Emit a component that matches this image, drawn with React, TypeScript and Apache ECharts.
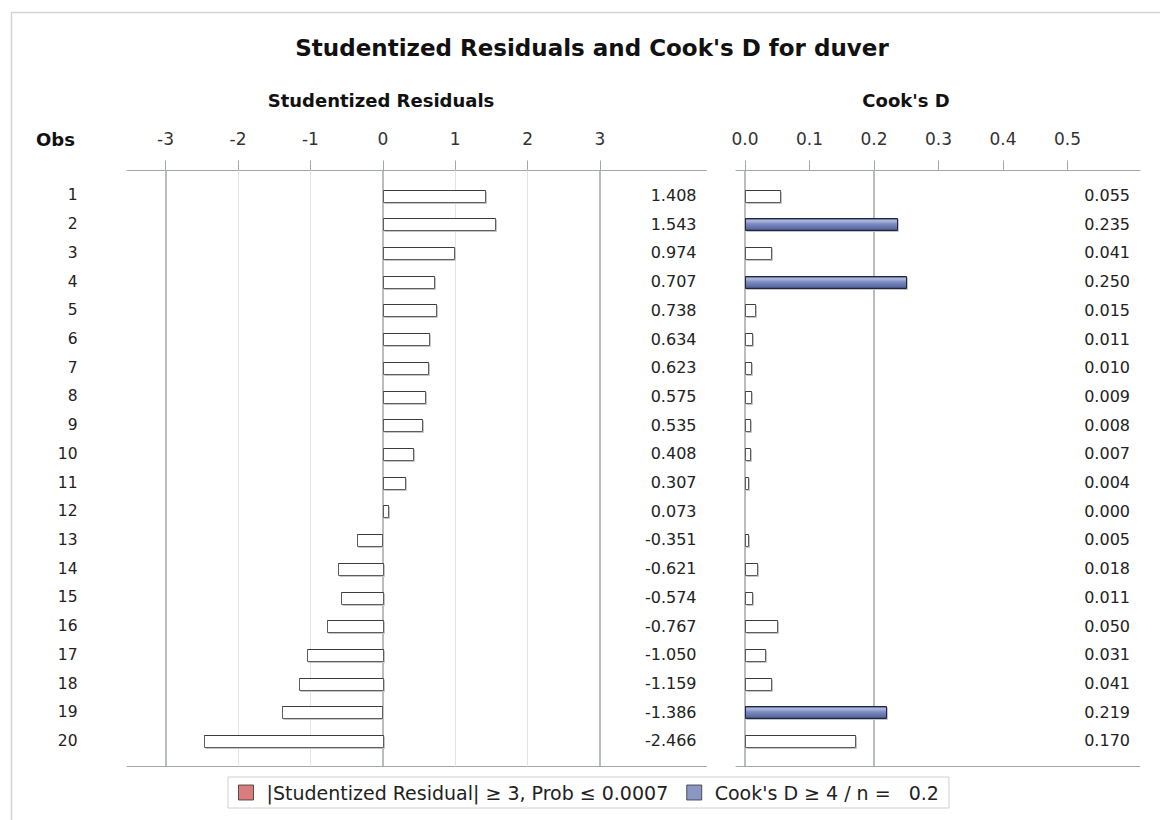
import React, { useEffect, useRef } from 'react';
import * as echarts from 'echarts';

const obsIds = [1, 2, 3, 4, 5, 6, 7, 8, 9, 10, 11, 12, 13, 14, 15, 16, 17, 18, 19, 20];
const studentized = [1.408, 1.543, 0.974, 0.707, 0.738, 0.634, 0.623, 0.575, 0.535, 0.408, 0.307, 0.073, -0.351, -0.621, -0.574, -0.767, -1.05, -1.159, -1.386, -2.466];
const cooksD = [0.055, 0.235, 0.041, 0.25, 0.015, 0.011, 0.01, 0.009, 0.008, 0.007, 0.004, 0.0, 0.005, 0.018, 0.011, 0.05, 0.031, 0.041, 0.219, 0.17];
const residTicks = [-3, -2, -1, 0, 1, 2, 3];
const residRefLines = [-3, 0, 3];
const residGridLines = [-2, -1, 1, 2];
const cookTicks = [0, 0.1, 0.2, 0.3, 0.4, 0.5];
const cookRefLines = [0, 0.2];
const residLimit = 3;
const cookLimit = 0.2;
const titleText = "Studentized Residuals and Cook's D for duver";
const panelTitles = ['Studentized Residuals', "Cook's D"];
const legendNames = ['|Studentized Residual| \u2265 3, Prob \u2264 0.0007', "Cook's D \u2265 4 / n =   0.2"];

const FONT = '"DejaVu Sans", Verdana, sans-serif';
const AXIS_GRAY = '#a3a7ab';
const LIGHT_GRID = '#e4e4e4';

function makeRender(isOut: (v: number) => boolean, kind: 'red' | 'blue') {
  return (params: any, api: any) => {
    const v = api.value(0);
    const o = api.value(1);
    if (!v) return { type: 'group', children: [] };
    const p0 = api.coord([0, o]);
    const p1 = api.coord([v, o]);
    const h = api.size([0, 0.41])[1];
    const x = Math.round(Math.min(p0[0], p1[0])) + 0.5;
    const w = Math.max(1, Math.round(Math.abs(p1[0] - p0[0])));
    const y = Math.round(p0[1] - h / 2) + 0.5;
    const hh = Math.round(h);
    const out = isOut(v);
    let fill: any = '#ffffff';
    let stroke = '#5e5e5e';
    if (out) {
      if (kind === 'blue') {
        fill = new echarts.graphic.LinearGradient(0, 0, 0, 1, [
          { offset: 0, color: '#3a4670' },
          { offset: 0.18, color: '#b3bde0' },
          { offset: 0.45, color: '#7d8cc1' },
          { offset: 0.85, color: '#5b6ba2' },
          { offset: 1, color: '#36416a' },
        ]);
        stroke = '#1f2640';
      } else {
        fill = new echarts.graphic.LinearGradient(0, 0, 0, 1, [
          { offset: 0, color: '#8a3030' },
          { offset: 0.18, color: '#f0b0b0' },
          { offset: 0.45, color: '#d66060' },
          { offset: 1, color: '#8a3030' },
        ]);
        stroke = '#4a1a1a';
      }
    }
    const children: any[] = [
      {
        type: 'polyline',
        shape: { points: [[x + 1, y + hh + 1], [x + w + 1, y + hh + 1], [x + w + 1, y + 1]] },
        style: { fill: 'none', stroke: '#c4c4c4', lineWidth: 1 },
      },
      {
        type: 'rect',
        shape: { x, y, width: w, height: hh },
        style: { fill, stroke, lineWidth: 1 },
      },
    ];
    if (!out) {
      children.push({
        type: 'line',
        shape: { x1: x, y1: y, x2: x + w, y2: y },
        style: { stroke: '#3c3c3c', lineWidth: 1 },
      });
    }
    return { type: 'group', children };
  };
}

export default function App() {
  const ref = useRef<HTMLDivElement>(null);
  useEffect(() => {
    if (!ref.current) return;
    const chart = echarts.init(ref.current, undefined, { renderer: 'svg' });

    const rMin = -3.533, rMax = 4.471;
    const cMin = -0.01395, cMax = 0.6124;
    const yMin = 0.13, yMax = 20.89;

    const tickStyle = { show: true, length: 10, lineStyle: { color: AXIS_GRAY, width: 1 } };
    const xLabel = (vals: number[], fmt: (v: number) => string) => ({
      show: true,
      customValues: vals,
      formatter: (v: number) => fmt(v),
      margin: 23,
      fontSize: 17,
      color: '#333',
      fontFamily: FONT,
    });

    const rowLabel = (fmt: (v: number) => string, margin: number, inside: boolean, size: number) => ({
      show: true,
      customValues: obsIds,
      formatter: (v: number) => fmt(v),
      margin,
      inside,
      fontSize: size,
      color: '#222',
      fontFamily: FONT,
    });

    const hiddenY = { show: false };

    const option: any = {
      animation: false,
      backgroundColor: '#ffffff',
      textStyle: { fontFamily: FONT },
      grid: [
        { left: 127, right: 1160 - 706.5, top: 170.5, bottom: 820 - 766.5 },
        { left: 736, right: 1160 - 1140, top: 170.5, bottom: 820 - 766.5 },
      ],
      xAxis: [
        {
          gridIndex: 0, type: 'value', position: 'top', min: rMin, max: rMax,
          axisLine: { show: true, onZero: false, lineStyle: { color: AXIS_GRAY } },
          axisTick: { ...tickStyle, customValues: residTicks },
          axisLabel: xLabel(residTicks, (v) => String(Math.round(v))),
          splitLine: { show: false },
        },
        {
          gridIndex: 0, type: 'value', position: 'bottom', min: rMin, max: rMax,
          axisLine: { show: true, onZero: false, lineStyle: { color: AXIS_GRAY } },
          axisTick: { show: false }, axisLabel: { show: false }, splitLine: { show: false },
        },
        {
          gridIndex: 1, type: 'value', position: 'top', min: cMin, max: cMax,
          axisLine: { show: true, onZero: false, lineStyle: { color: AXIS_GRAY } },
          axisTick: { ...tickStyle, customValues: cookTicks },
          axisLabel: xLabel(cookTicks, (v) => v.toFixed(1)),
          splitLine: { show: false },
        },
        {
          gridIndex: 1, type: 'value', position: 'bottom', min: cMin, max: cMax,
          axisLine: { show: true, onZero: false, lineStyle: { color: AXIS_GRAY } },
          axisTick: { show: false }, axisLabel: { show: false }, splitLine: { show: false },
        },
      ],
      yAxis: [
        {
          gridIndex: 0, type: 'value', inverse: true, min: yMin, max: yMax, position: 'left',
          axisLine: { show: false }, axisTick: { show: false }, splitLine: { show: false },
          axisLabel: rowLabel((v) => String(Math.round(v)), 49.5, false, 15.5),
        },
        {
          gridIndex: 0, type: 'value', inverse: true, min: yMin, max: yMax, position: 'right',
          axisLine: { show: false }, axisTick: { show: false }, splitLine: { show: false },
          axisLabel: rowLabel((v) => studentized[Math.round(v) - 1].toFixed(3), 10, true, 16),
        },
        {
          gridIndex: 1, type: 'value', inverse: true, min: yMin, max: yMax, position: 'left',
          axisLine: { show: false }, axisTick: { show: false }, splitLine: { show: false },
          axisLabel: hiddenY,
        },
        {
          gridIndex: 1, type: 'value', inverse: true, min: yMin, max: yMax, position: 'right',
          axisLine: { show: false }, axisTick: { show: false }, splitLine: { show: false },
          axisLabel: rowLabel((v) => cooksD[Math.round(v) - 1].toFixed(3), 10, true, 16),
        },
      ],
      legend: {
        show: true,
        left: 228,
        top: 777,
        orient: 'horizontal',
        padding: [6, 10, 6, 10],
        itemGap: 18,
        itemWidth: 15,
        itemHeight: 15,
        icon: 'rect',
        borderColor: '#d0d0d0',
        borderWidth: 1,
        backgroundColor: '#ffffff',
        selectedMode: false,
        itemStyle: { borderColor: '#333333', borderWidth: 1 },
        textStyle: { fontSize: 19, color: '#222', fontFamily: FONT, padding: [0, 0, 0, 8] },
        data: legendNames,
      },
      graphic: [
        {
          type: 'rect', z: -10, silent: true,
          shape: { x: 11.5, y: 12.5, width: 1170, height: 830 },
          style: { fill: 'none', stroke: '#d4d4d4', lineWidth: 1.5 },
        },
        {
          type: 'text', x: 592, y: 48,
          style: { text: titleText, fontSize: 23, fontWeight: 'bold', fontFamily: FONT, fill: '#111', align: 'center', verticalAlign: 'middle' },
        },
        {
          type: 'text', x: 381, y: 100,
          style: { text: panelTitles[0], fontSize: 18, fontWeight: 'bold', fontFamily: FONT, fill: '#111', align: 'center', verticalAlign: 'middle' },
        },
        {
          type: 'text', x: 906, y: 100,
          style: { text: panelTitles[1], fontSize: 18, fontWeight: 'bold', fontFamily: FONT, fill: '#111', align: 'center', verticalAlign: 'middle' },
        },
        {
          type: 'text', x: 55.5, y: 139,
          style: { text: 'Obs', fontSize: 18, fontWeight: 'bold', fontFamily: FONT, fill: '#111', align: 'center', verticalAlign: 'middle' },
        },
      ],
      series: [
        {
          type: 'custom',
          name: 'Studentized Residual',
          xAxisIndex: 0,
          yAxisIndex: 0,
          z: 10,
          clip: false,
          silent: true,
          encode: { x: 0, y: 1 },
          data: studentized.map((v, i) => [v, obsIds[i]]),
          renderItem: makeRender((v) => Math.abs(v) >= residLimit, 'red'),
          markLine: {
            silent: true,
            symbol: ['none', 'none'],
            label: { show: false },
            z: 3,
            data: [
              ...residGridLines.map((v) => ({ xAxis: v, lineStyle: { color: LIGHT_GRID, width: 1, type: 'solid' } })),
              ...residRefLines.map((v) => ({ xAxis: v, lineStyle: { color: AXIS_GRAY, width: 1.5, type: 'solid' } })),
            ],
          },
        },
        {
          type: 'custom',
          name: "Cook's D",
          xAxisIndex: 2,
          yAxisIndex: 2,
          z: 10,
          clip: false,
          silent: true,
          encode: { x: 0, y: 1 },
          data: cooksD.map((v, i) => [v, obsIds[i]]),
          renderItem: makeRender((v) => v >= cookLimit, 'blue'),
          markLine: {
            silent: true,
            symbol: ['none', 'none'],
            label: { show: false },
            z: 3,
            data: cookRefLines.map((v) => ({ xAxis: v, lineStyle: { color: AXIS_GRAY, width: 1.5, type: 'solid' } })),
          },
        },
        {
          type: 'scatter',
          name: legendNames[0],
          xAxisIndex: 0,
          yAxisIndex: 0,
          data: [],
          itemStyle: { color: '#d15b5b', borderColor: '#333', borderWidth: 1 },
        },
        {
          type: 'scatter',
          name: legendNames[1],
          xAxisIndex: 0,
          yAxisIndex: 0,
          data: [],
          itemStyle: { color: '#6d7db4', borderColor: '#333', borderWidth: 1 },
        },
      ],
    };
    chart.setOption(option);
    return () => chart.dispose();
  }, []);

  return (
    <div
      ref={ref}
      style={{ position: 'absolute', left: 0, top: 0, width: 1160, height: 820, background: '#fff' }}
    />
  );
}
